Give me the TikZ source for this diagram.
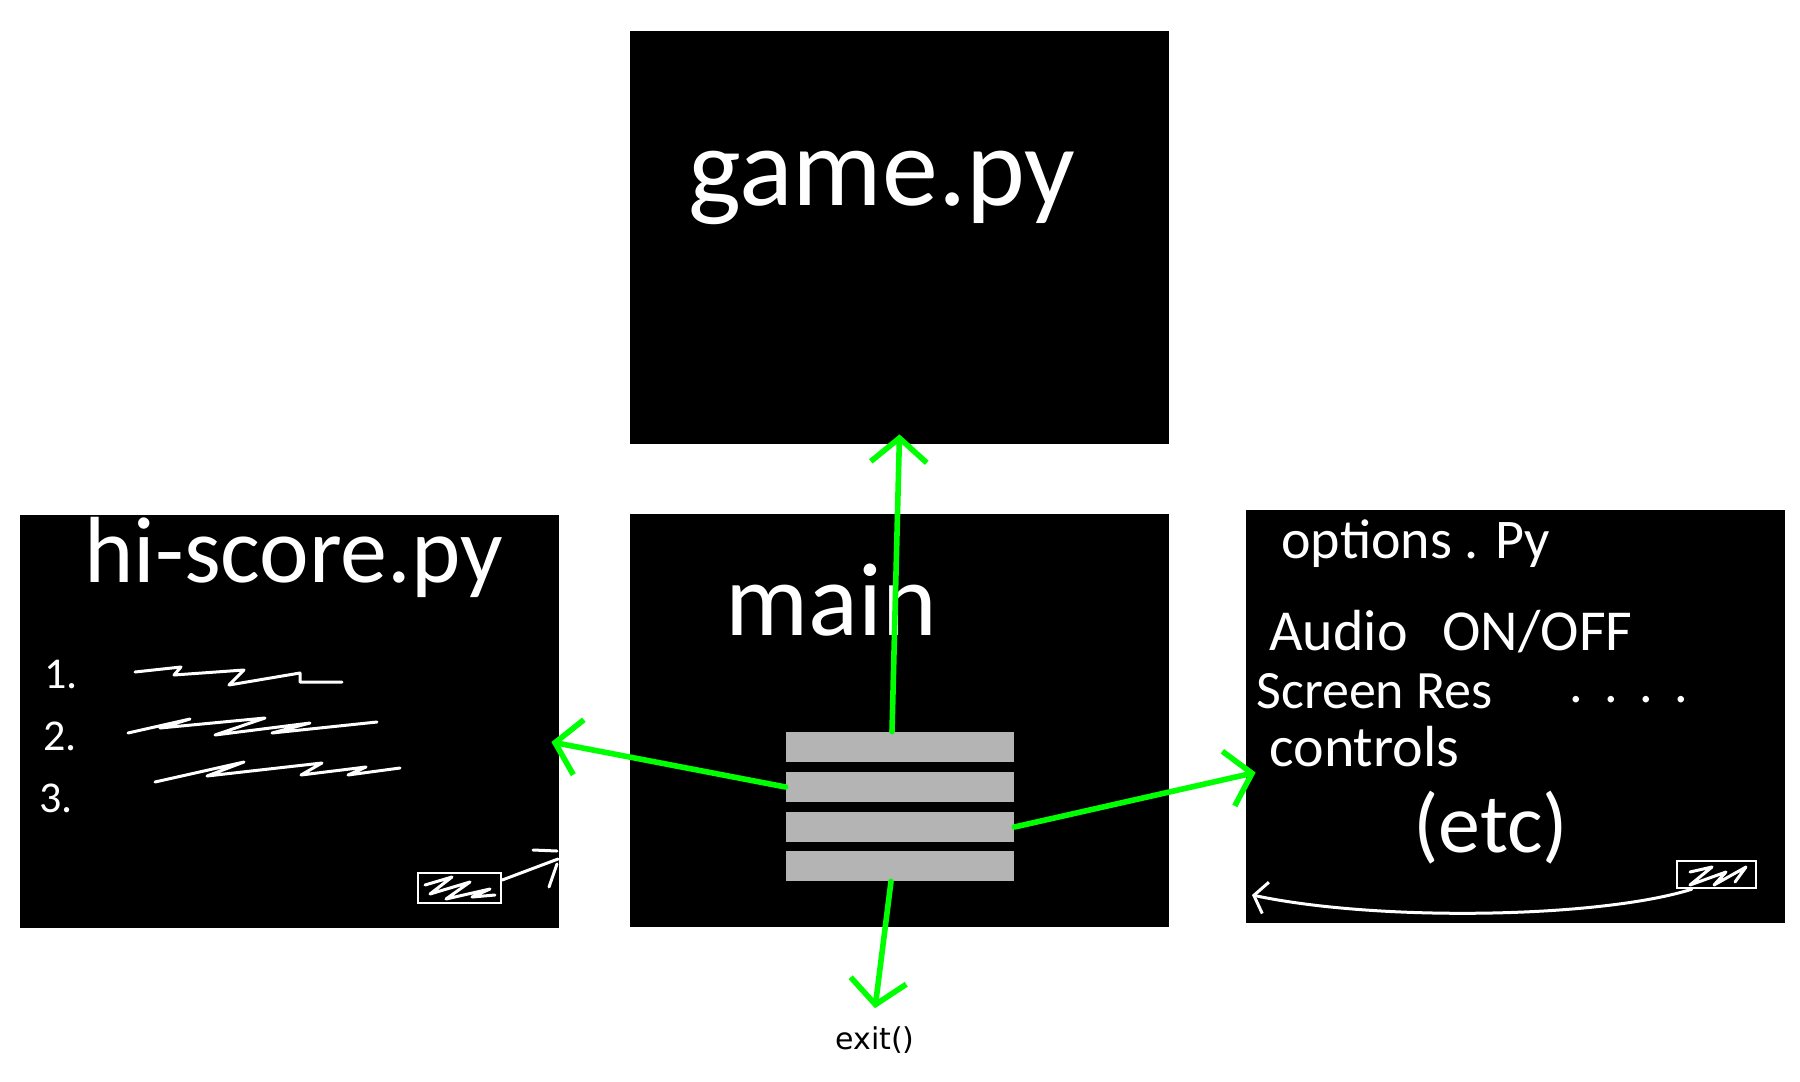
\documentclass[tikz,border=0pt]{standalone}
\usepackage{fontspec}
\usepackage{xcolor}
\definecolor{linkgreen}{RGB}{0,255,0}
\definecolor{menugrey}{RGB}{180,180,180}
\usetikzlibrary{arrows.meta}
\newfontfamily\handfont{Carlito}
\newfontfamily\labelfont{DejaVu Sans}
\newcommand{\widthscreen}{269.5pt}
\newcommand{\heightscreen}{206.5pt}
\newcommand{\widthitem}{114pt}
\newcommand{\heightitem}{15pt}
\tikzset{
    screenbox/.style={fill=black, inner sep=0pt, minimum width=\widthscreen, minimum height=\heightscreen},
    menuitem/.style={fill=menugrey, inner sep=0pt, minimum width=\widthitem, minimum height=\heightitem},
    handtext/.style={text=white, inner sep=0pt, anchor=base west},
    titletext/.style={handtext, font=\handfont\fontsize{56}{64}\selectfont},
    entrytext/.style={handtext, font=\handfont\fontsize{27}{32}\selectfont},
    scribble/.style={white, line width=1.5pt, line join=round, line cap=round},
    buttonbox/.style={draw=white, line width=1.2pt, inner sep=0pt},
    link/.style={linkgreen, line width=2.8pt, line cap=round, -{Straight Barb[length=12pt, width=28pt]}},
}
\begin{document}
\begin{tikzpicture}[x=0.5pt, y=-0.5pt]
    \path[fill=white] (0,0) rectangle (1800,1082);

    % screens
    \node[screenbox] (game) at (899.5,237.5) {};
    \node[screenbox] (main) at (899.5,720) {};
    \node[screenbox] (hiscore) at (289.5,721) {};
    \node[screenbox] (options) at (1515.5,716.5) {};

    % titles
    \node[titletext] (gametitle) at (688,205) {game.py};
    \node[titletext, font=\handfont\fontsize{52}{60}\selectfont] (maintitle) at (725,635) {main};
    \node[titletext, font=\handfont\fontsize{47}{54}\selectfont] (hititle) at (84,582) {hi-score.py};
    \node[entrytext, font=\handfont\fontsize{28}{34}\selectfont] (opttitle) at (1281,558) {options . Py};

    % menu of main
    \foreach \i/\y in {1/747, 2/787, 3/827, 4/866}
        \node[menuitem] (item\i) at (900,\y) {};

    % hi-score list
    \foreach \i/\x/\y in {1/44/688, 2/43/750, 3/39/812}
        \node[handtext, font=\handfont\fontsize{22}{26}\selectfont] (rank\i) at (\x,\y) {\i.};
    \draw[scribble] (135,672) -- (181,667) -- (174,675) -- (244,670) -- (229,685) -- (300,673) -- (300,682) -- (342,682);
    \draw[scribble] (128,733) -- (190,719) -- (160,728) -- (265,718) -- (215,735) -- (310,723) -- (272,733) -- (377,722);
    \draw[scribble] (155,782) -- (244,762) -- (207,776) -- (322,763) -- (301,775) -- (366,767) -- (348,775) -- (400,768);

    % hi-score back button
    \node[buttonbox, minimum width=41.5pt, minimum height=15pt] (hbtn) at (459.5,888) {};
    \draw[scribble] (425,885) -- (452,877) -- (430,894) -- (470,882) -- (446,899) -- (490,889) -- (472,897) -- (495,895);
    \coordinate (hedge) at (558,859);
    \draw[scribble] ([yshift=4pt]hbtn.east) -- (hedge);
    \draw[scribble] (533,850) -- (557,851);
    \draw[scribble] (557,864) -- (549,887);

    % options list
    \node[entrytext, font=\handfont\fontsize{29}{34}\selectfont] (audio) at (1269,650) {Audio\hspace{0.6em}ON/OFF};
    \node[entrytext] (screenres) at (1256,708) {Screen Res};
    \node[entrytext] (resdots) at (1569,702) {.\hspace{0.4em}.\hspace{0.4em}.\hspace{0.4em}.};
    \node[entrytext, font=\handfont\fontsize{29}{34}\selectfont] (controls) at (1269,766) {controls};
    \node[handtext, font=\handfont\fontsize{42}{48}\selectfont] (etc) at (1413,852) {(etc)};

    % options back button
    \node[buttonbox, minimum width=39.5pt, minimum height=13.5pt] (obtn) at (1716.5,874.5) {};
    \draw[scribble] (1690,872) -- (1712,867) -- (1690,885) -- (1726,872) -- (1714,885) -- (1746,867) -- (1735,882);
    \coordinate (oback) at (1252,895);
    \draw[scribble, -{Straight Barb[length=6pt, width=16pt]}] ([xshift=8pt]obtn.south west) .. controls (1600,918) and (1380,922) .. (oback);

    % exit
    \node[font=\labelfont\fontsize{15}{18}\selectfont, inner sep=0pt] (exit) at (875,1040) {exit()};

    % links from the menu
    \draw[link] ([xshift=-4pt]item1.north) -- ([yshift=5pt]game.south);
    \draw[link] (item2.west) -- ([xshift=-4pt, yshift=-10.5pt]hiscore.east);
    \draw[link] (item3.east) -- ([xshift=5pt, yshift=-28pt]options.west);
    \draw[link] ([xshift=-4.5pt]item4.south) -- ([yshift=9pt]exit.north);
\end{tikzpicture}
\end{document}
